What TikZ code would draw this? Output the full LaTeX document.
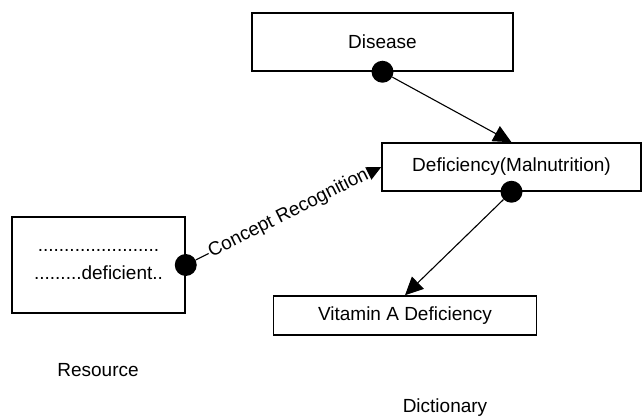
\documentclass[tikz,border=0pt]{standalone}
\usepackage{fontspec}
\setmainfont{Liberation Sans}
\usetikzlibrary{arrows.meta}
\begin{document}
\begin{tikzpicture}[x=1pt,y=-1pt]
\tikzstyle{every node}=[font=\fontsize{19}{28}\selectfont,inner sep=0pt]
\tikzstyle{box}=[draw,line width=1.5pt,fill=white]
\tikzstyle{dot}=[circle,fill=black,minimum size=22pt]
\tikzstyle{link}=[line width=1.1pt,-{Triangle[length=18pt,width=17pt]}]
\useasboundingbox (0,0) rectangle (643,417);
\node[box,minimum width=261pt,minimum height=58pt] at (382.5,42) (dis) {Disease};
\node[box,minimum width=259pt,minimum height=48pt] at (511.5,167) (def) {Deficiency(Malnutrition)};
\node[box,minimum width=263pt,minimum height=39pt] at (405,315.5) (vit) {Vitamin A Deficiency};
\node[box,minimum width=173pt,minimum height=96pt,align=center] at (98.5,265) (res)
     {.......................\\.........deficient..};
\node[dot] at (dis.south) (ddis) {};
\node[dot] at (def.south) (ddef) {};
\node[dot] at (res.east) (dres) {};
\node[anchor=base] at (98,376) (lres) {Resource};
\node[anchor=base] at (445,412) (ldic) {Dictionary};
\draw[link] (ddis) -- (def.north);
\draw[link] (ddef) -- (vit.north);
\draw[link] (dres) -- node[sloped,fill=white,inner sep=1pt] {Concept Recognition} (def.west);
\end{tikzpicture}
\end{document}
